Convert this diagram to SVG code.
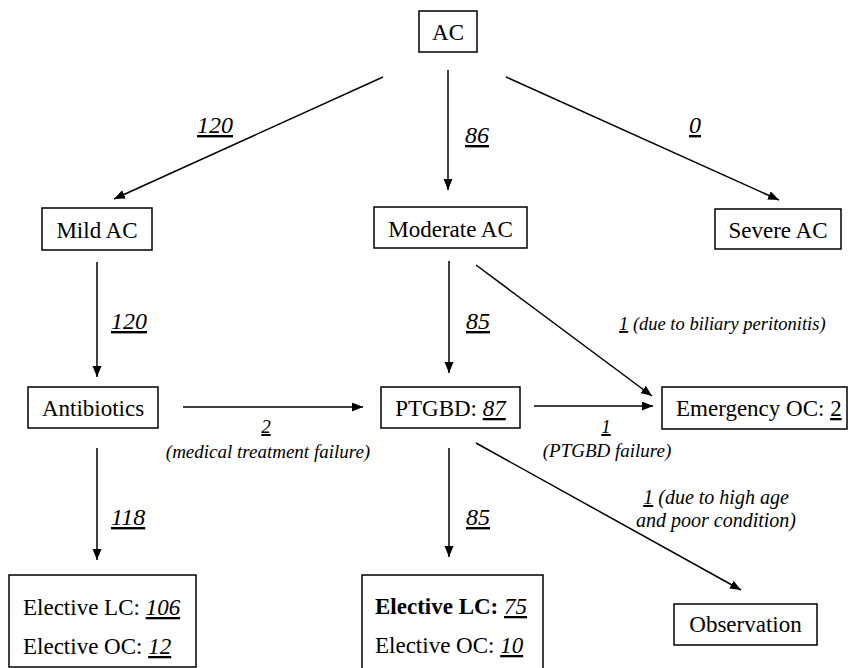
<svg xmlns="http://www.w3.org/2000/svg" width="848" height="668" viewBox="0 0 848 668" font-family="'Liberation Serif', 'Times New Roman', serif">
<defs>
<style>
text{font-family:'Liberation Serif', 'Times New Roman', serif;fill:#000}
.box{fill:#fff;stroke:#000;stroke-width:1.5}
.t{font-size:23px}
.c{text-anchor:middle}
.n{font-size:24px;font-style:italic}
.s{font-size:19px;font-style:italic}
.u{text-decoration:underline}
.i{font-style:italic}
.b{font-weight:bold}
.ln{stroke:#000;stroke-width:1.5;fill:none;marker-end:url(#ah)}
</style>
<marker id="ah" markerUnits="userSpaceOnUse" markerWidth="12" markerHeight="10" refX="11" refY="4.5" orient="auto">
<path d="M0,0 L11,4.5 L0,9 z" fill="#000"/>
</marker>
</defs>
<rect width="848" height="668" fill="#fff"/>

<g id="connectors">
<line class="ln" x1="383" y1="77" x2="114" y2="199"/>
<line class="ln" x1="448" y1="70" x2="448" y2="190"/>
<line class="ln" x1="506" y1="77" x2="779" y2="200"/>
<line class="ln" x1="97" y1="262" x2="97" y2="377"/>
<line class="ln" x1="449" y1="261" x2="449" y2="373"/>
<line class="ln" x1="476" y1="265" x2="652" y2="396"/>
<line class="ln" x1="183" y1="407" x2="363" y2="407"/>
<line class="ln" x1="534" y1="406" x2="653" y2="406"/>
<line class="ln" x1="97" y1="448" x2="97" y2="560"/>
<line class="ln" x1="449" y1="448" x2="449" y2="557"/>
<line class="ln" x1="476" y1="443" x2="741" y2="590"/>
</g>

<g id="labels">
<text class="n" x="197" y="133"><tspan class="u">120</tspan></text>
<text class="n" x="465" y="143"><tspan class="u">86</tspan></text>
<text class="n" x="689" y="133"><tspan class="u">0</tspan></text>
<text class="n" x="111" y="329"><tspan class="u">120</tspan></text>
<text class="n" x="466" y="329"><tspan class="u">85</tspan></text>
<text class="s" x="619" y="330" style="font-size:18.5px"><tspan class="u">1</tspan> (due to biliary peritonitis)</text>
<text class="s c" x="266" y="433"><tspan class="u">2</tspan></text>
<text class="s c" x="268" y="458">(medical treatment failure)</text>
<text class="s c" x="606" y="433"><tspan class="u">1</tspan></text>
<text class="s c" x="607" y="457">(PTGBD failure)</text>
<text class="n" x="111" y="525"><tspan class="u">118</tspan></text>
<text class="n" x="466" y="525"><tspan class="u">85</tspan></text>
<text class="s c" x="716" y="504" style="font-size:20px"><tspan class="u">1</tspan> (due to high age</text>
<text class="s c" x="716" y="527" style="font-size:20px">and poor condition)</text>
</g>

<g id="n-ac">
<rect class="box" x="419" y="11" width="58" height="41"/>
<text class="t c" x="448" y="40">AC</text>
</g>
<g id="n-mild">
<rect class="box" x="42" y="208" width="110" height="42"/>
<text class="t c" x="97" y="238">Mild AC</text>
</g>
<g id="n-moderate">
<rect class="box" x="374" y="207" width="153" height="41"/>
<text class="t c" x="450.5" y="237">Moderate AC</text>
</g>
<g id="n-severe">
<rect class="box" x="715" y="209" width="126" height="40"/>
<text class="t c" x="778" y="238">Severe AC</text>
</g>
<g id="n-antibiotics">
<rect class="box" x="28" y="387" width="130" height="41"/>
<text class="t c" x="93" y="416">Antibiotics</text>
</g>
<g id="n-ptgbd">
<rect class="box" x="381" y="387" width="139" height="41"/>
<text class="t c" x="450.5" y="416">PTGBD: <tspan class="i u">87</tspan></text>
</g>
<g id="n-emergency">
<rect class="box" x="662" y="387" width="185" height="42"/>
<text class="t" x="676" y="416">Emergency OC: <tspan class="u">2</tspan></text>
</g>
<g id="n-observation">
<rect class="box" x="674" y="604" width="143" height="41"/>
<text class="t c" x="745.5" y="632">Observation</text>
</g>
<g id="n-elective-left">
<rect class="box" x="9" y="575" width="187" height="92"/>
<text class="t" x="23" y="615">Elective LC: <tspan class="i u">106</tspan></text>
<text class="t" x="23" y="654">Elective OC: <tspan class="i u">12</tspan></text>
</g>
<g id="n-elective-mid">
<rect class="box" x="362" y="575" width="181" height="100"/>
<text class="t" x="375" y="614"><tspan class="b">Elective LC: </tspan><tspan class="i u">75</tspan></text>
<text class="t" x="375" y="653">Elective OC: <tspan class="i u">10</tspan></text>
</g>
</svg>
